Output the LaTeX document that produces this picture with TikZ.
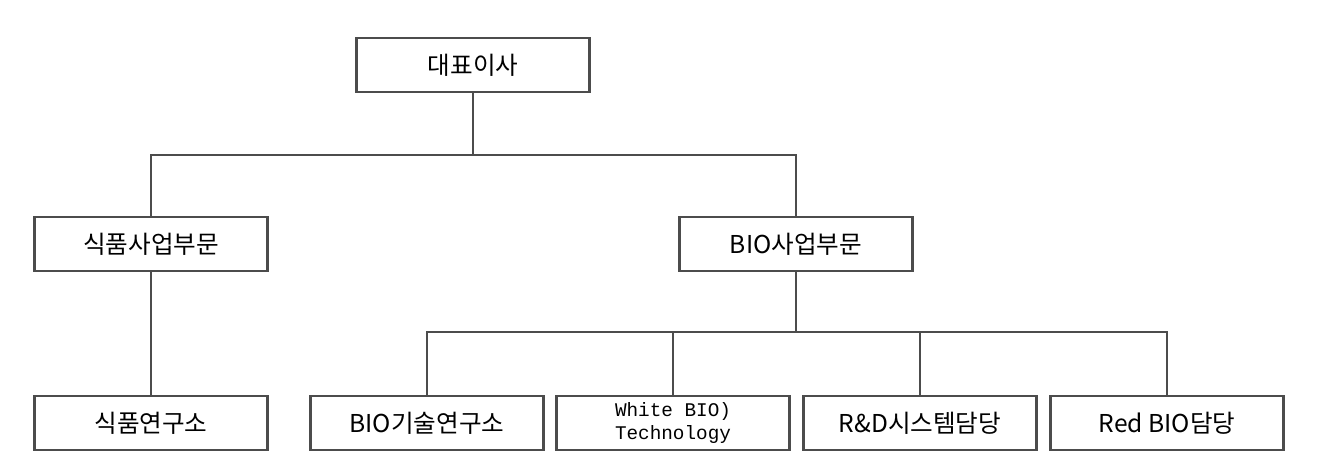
\documentclass[tikz,border=0pt]{standalone}
\usepackage{fontspec}
\setmainfont{Noto Sans CJK KR}
\newfontfamily\monofont{Liberation Mono}
\tikzstyle{unit}=[draw=black!70,line width=1.2pt,minimum width=4.66cm,minimum height=1.08cm,inner sep=0pt,font=\fontsize{14}{16}\selectfont]
\tikzstyle{link}=[draw=black!70,line width=1.2pt]
\begin{document}
\begin{tikzpicture}[x=0.02cm,y=-0.02cm]
\useasboundingbox (0,0) rectangle (1319,473);
\node[unit] (ceo) at (473,65) {대표이사};
\node[unit] (food) at (151,244) {식품사업부문};
\node[unit] (bio) at (796,244) {BIO사업부문};
\foreach \pos/\name/\text in {{(151,423)/foodlab/식품연구소}, {(427,423)/biolab/BIO기술연구소},
                              {(1167,423)/red/Red BIO담당}, {(920,423)/rnd/R\&D시스템담당}}{
  \node[unit] (\name) at \pos {\text};
}
\node[unit,align=center,font=\monofont\fontsize{11}{13}\selectfont] (white) at (673,423) {White BIO)\\Technology};
\coordinate (top) at (473,155);
\coordinate (mid) at (796,332);
\path[link] (ceo) -- (top) -| (food);
\path[link] (top) -| (bio);
\path[link] (food) -- (foodlab);
\path[link] (bio) -- (mid);
\foreach \dest in {biolab,white,rnd,red}{
  \path[link] (mid) -| (\dest);
}
\end{tikzpicture}
\end{document}
